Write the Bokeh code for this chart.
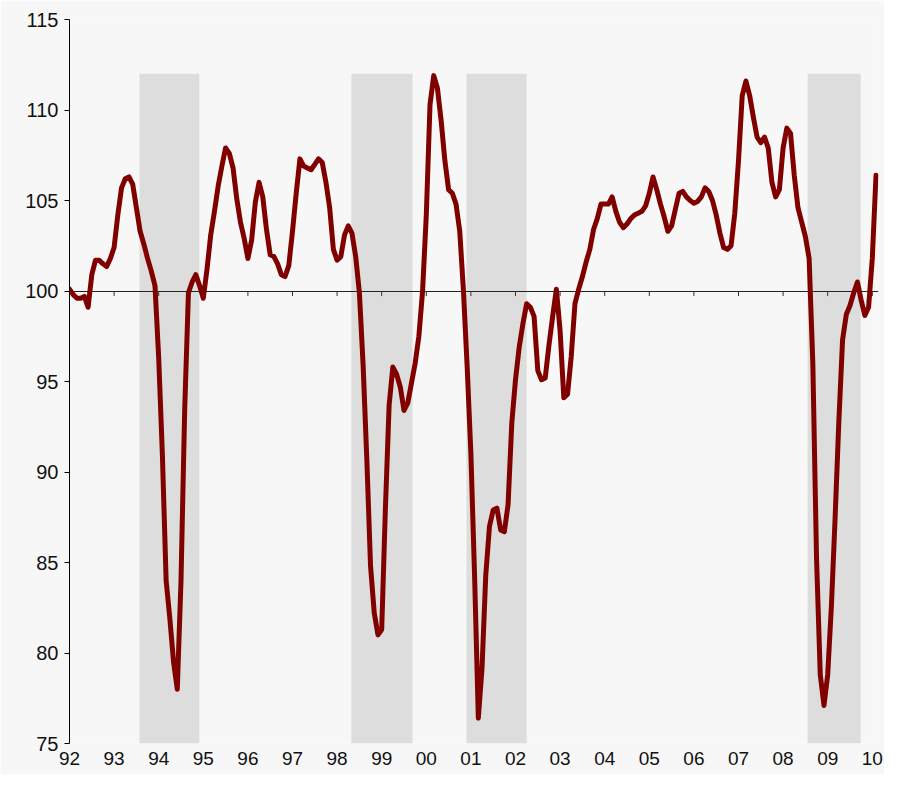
from bokeh.plotting import figure
from bokeh.models import Range1d, FixedTicker, ColumnDataSource
from bokeh.embed import file_html
from bokeh.resources import INLINE

# ---------------- data ----------------
start_year = 1992  # monthly series starting January 1992

values_1992 = [100.1, 99.8, 99.6, 99.6, 99.7, 99.1, 100.9, 101.7, 101.7, 101.5, 101.35, 101.8]
values_1993 = [102.4, 104.2, 105.7, 106.2, 106.3, 105.9, 104.6, 103.3, 102.6, 101.8, 101.1, 100.3]
values_1994 = [96.3, 90.9, 84.0, 81.9, 79.5, 78.0, 84.0, 93.5, 99.9, 100.5, 100.9, 100.3]
values_1995 = [99.6, 101.2, 103.1, 104.4, 105.8, 106.9, 107.9, 107.6, 106.8, 105.1, 103.8, 102.9]
values_1996 = [101.8, 102.8, 104.9, 106.0, 105.2, 103.4, 102.0, 101.9, 101.5, 100.9, 100.8, 101.4]
values_1997 = [103.3, 105.4, 107.3, 106.9, 106.8, 106.7, 107.0, 107.3, 107.1, 106.0, 104.6, 102.3]
values_1998 = [101.7, 101.9, 103.1, 103.6, 103.2, 101.9, 99.9, 95.9, 90.7, 84.8, 82.2, 81.0]
values_1999 = [81.3, 88.0, 93.7, 95.8, 95.4, 94.7, 93.4, 93.8, 94.9, 96.0, 97.5, 100.0]
values_2000 = [104.2, 110.3, 111.9, 111.2, 109.4, 107.2, 105.6, 105.4, 104.8, 103.3, 100.0, 95.8]
values_2001 = [91.0, 84.2, 76.4, 79.2, 84.3, 87.0, 87.9, 88.0, 86.8, 86.7, 88.2, 92.7]
values_2002 = [95.1, 96.9, 98.2, 99.3, 99.1, 98.6, 95.6, 95.1, 95.2, 97.0, 98.6, 100.1]
values_2003 = [97.8, 94.1, 94.3, 96.4, 99.3, 100.1, 100.8, 101.6, 102.3, 103.4, 104.0, 104.8]
values_2004 = [104.8, 104.8, 105.2, 104.4, 103.8, 103.5, 103.7, 104.0, 104.2, 104.3, 104.4, 104.7]
values_2005 = [105.4, 106.3, 105.6, 104.8, 104.1, 103.3, 103.6, 104.5, 105.4, 105.5, 105.2, 105.0]
values_2006 = [104.85, 104.95, 105.2, 105.7, 105.5, 105.0, 104.2, 103.2, 102.4, 102.3, 102.5, 104.3]
values_2007 = [107.2, 110.8, 111.6, 110.8, 109.6, 108.5, 108.2, 108.5, 107.9, 106.0, 105.2, 105.6]
values_2008 = [107.9, 109.0, 108.7, 106.4, 104.6, 103.8, 103.0, 101.8, 96.0, 85.2, 78.8, 77.1]
values_2009 = [78.8, 82.6, 87.5, 92.8, 97.3, 98.7, 99.2, 99.9, 100.5, 99.5, 98.65, 99.1]
values_2010 = [101.8, 106.4]

year_ticks = list(range(1992, 2011))
year_labels = ["92", "93", "94", "95", "96", "97", "98", "99", "00", "01",
               "02", "03", "04", "05", "06", "07", "08", "09", "10"]
y_ticks = [75, 80, 85, 90, 95, 100, 105, 110, 115]

# shaded periods (decimal years)
shade_start = [1993.57, 1998.32, 2000.90, 2008.55]
shade_end = [1994.91, 1999.69, 2002.25, 2009.74]
shade_top = 112
reference_level = 100

values = (values_1992 + values_1993 + values_1994 + values_1995 + values_1996 +
          values_1997 + values_1998 + values_1999 + values_2000 + values_2001 +
          values_2002 + values_2003 + values_2004 + values_2005 + values_2006 +
          values_2007 + values_2008 + values_2009 + values_2010)
x_vals = [start_year + i / 12.0 for i in range(len(values))]

# ---------------- figure ----------------
BG = "#f7f7f7"
FONT = "Liberation Sans"

p = figure(width=884, height=774,
           x_range=Range1d(1992.0, 2010.139), y_range=Range1d(75, 115),
           output_backend="svg", toolbar_location=None,
           min_border_left=69, min_border_right=6,
           min_border_top=19, min_border_bottom=31,
           background_fill_color=BG, border_fill_color=BG)
p.outline_line_color = None
p.xgrid.visible = False
p.ygrid.visible = False

# recession shading
p.quad(left=shade_start, right=shade_end, bottom=y_ticks[0], top=shade_top,
       fill_color="#dddddd", line_color=None)

# reference line at 100 with year ticks hanging from it
p.hspan(y=[reference_level], line_color="#222222", line_width=1)
p.segment(x0=year_ticks[1:], x1=year_ticks[1:],
          y0=[reference_level] * (len(year_ticks) - 1),
          y1=[reference_level - 0.28] * (len(year_ticks) - 1),
          line_color="#333333", line_width=1)

# the series
src = ColumnDataSource(dict(x=x_vals, y=values))
p.line("x", "y", source=src, line_color="#800000", line_width=5,
       line_join="round", line_cap="round")

# y axis
yax = p.yaxis[0]
yax.ticker = FixedTicker(ticks=y_ticks)
yax.major_tick_out = 5
yax.major_tick_in = 0
yax.minor_tick_out = 0
yax.minor_tick_in = 0
yax.axis_line_color = "#000000"
yax.major_tick_line_color = "#000000"
yax.major_label_text_font = FONT
yax.major_label_text_font_size = "20px"
yax.major_label_text_color = "#111111"
yax.major_label_standoff = 6

# x axis (labels only, at the bottom)
xax = p.xaxis[0]
xax.ticker = FixedTicker(ticks=year_ticks)
xax.major_label_overrides = {yr: lab for yr, lab in zip(year_ticks, year_labels)}
xax.axis_line_color = None
xax.major_tick_line_color = None
xax.minor_tick_line_color = None
xax.major_tick_out = 0
xax.major_tick_in = 0
xax.major_label_standoff = 8
xax.major_label_text_font = FONT
xax.major_label_text_font_size = "19px"
xax.major_label_text_color = "#111111"

open("out.html", "w").write(file_html(p, INLINE))
